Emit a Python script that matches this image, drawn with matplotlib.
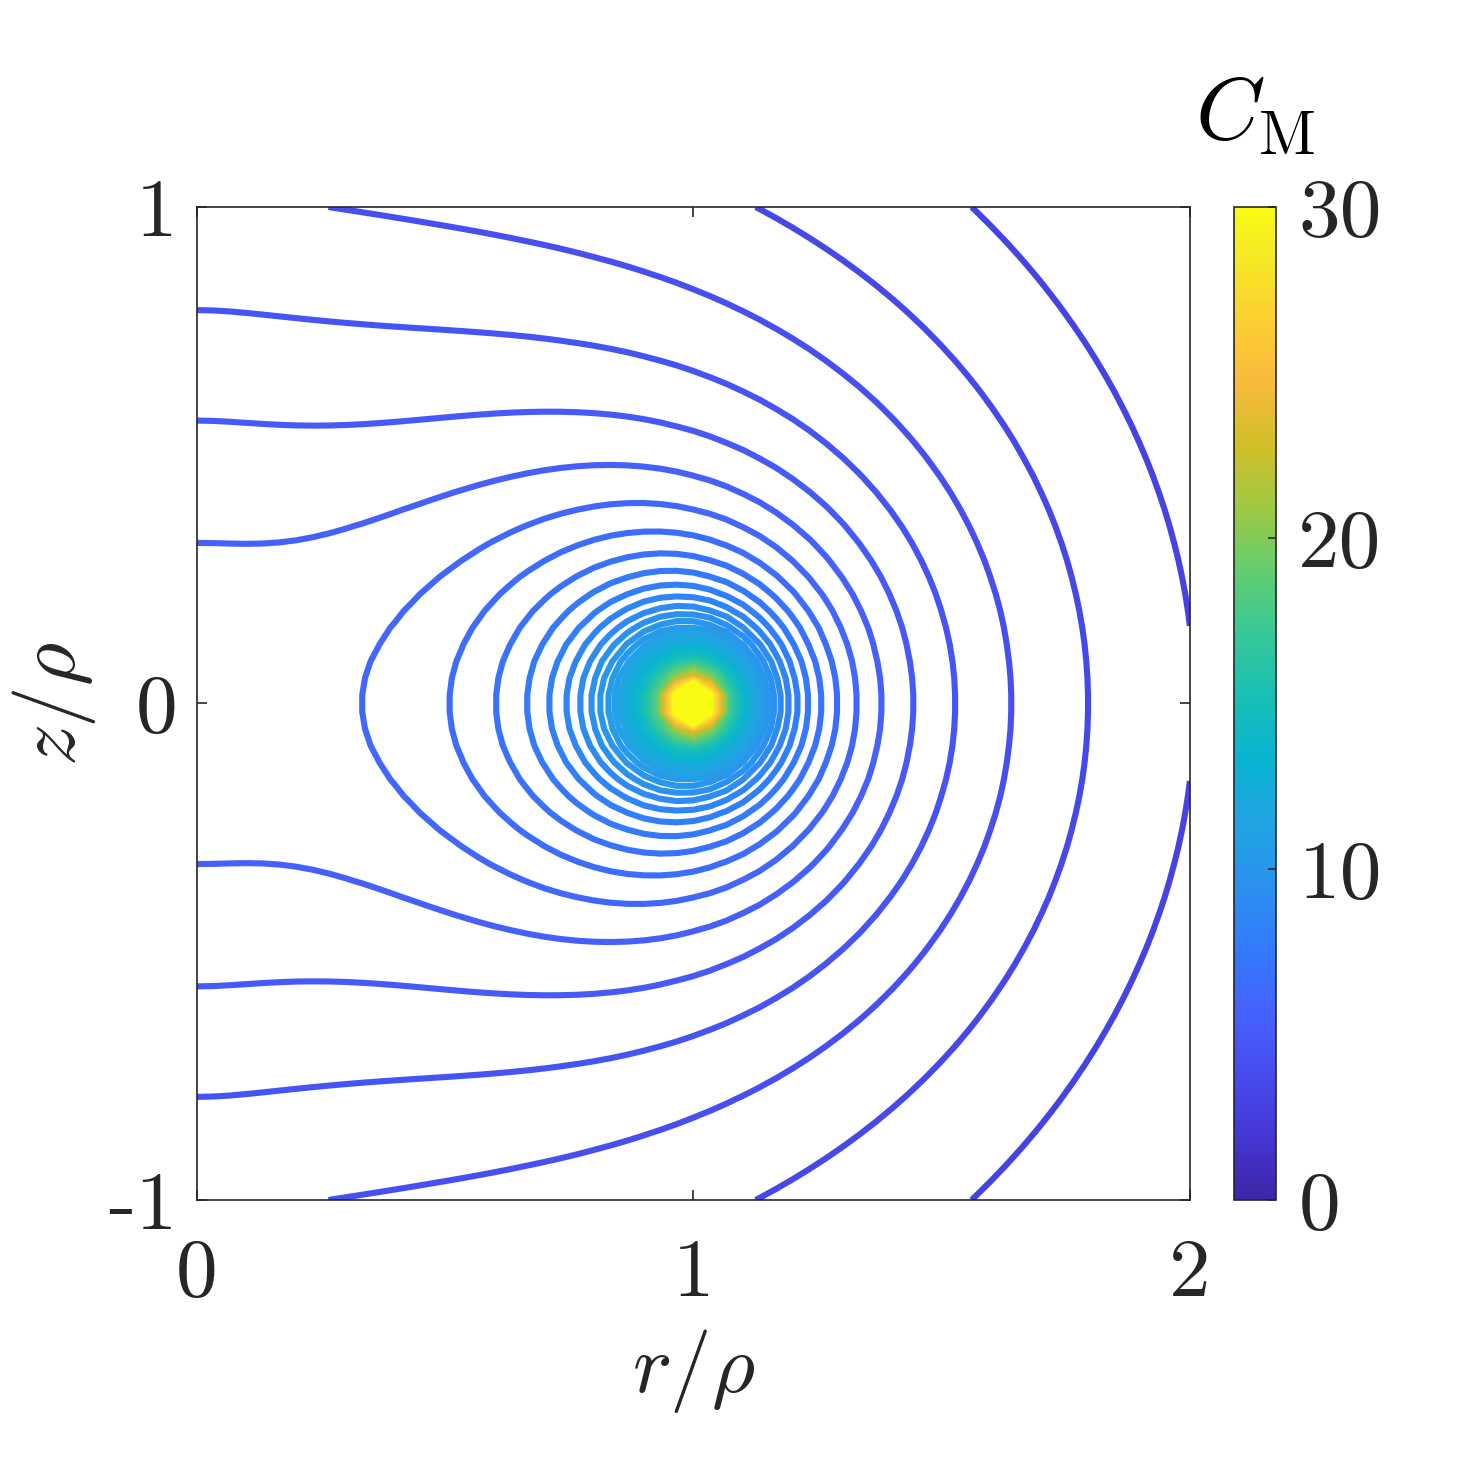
import numpy as np
import matplotlib
matplotlib.use("Agg")
import matplotlib.pyplot as plt
from matplotlib.colors import LinearSegmentedColormap, Normalize
from matplotlib.cm import ScalarMappable

plt.rcParams['mathtext.fontset'] = 'cm'
plt.rcParams['font.family'] = ['cmr10', 'DejaVu Serif']
plt.rcParams['axes.unicode_minus'] = False

# grid of the (r, z) half plane, ring sits at r = rho = 1, z = 0
r_grid = np.linspace(0, 2, 61)
z_grid = np.linspace(-1, 1, 60)

# field fitted to the contour crossings
ring_r = 1.0
far_exp = 0.277      # extra decay with distance from the far side of the ring
axis_eps = 0.12      # keeps the field smooth on the axis r = 0
z_weight = 0.4
lin_coef = 2.212
log_coef = 0.862
offset = 3.685
c_cap = 45.0

level_lo, level_hi, level_step = 3.0, 45.0, 0.5
x_ticks = [0, 1, 2]
x_ticklabels = ['0', '1', '2']
y_ticks = [-1, 0, 1]
y_ticklabels = ['-1', '0', '1']
cbar_ticks = [0, 10, 20, 30]
cbar_ticklabels = ['0', '10', '20', '30']
c_min, c_max = 0, 30

# matlab parula (every 4th entry of the 64 colour table)
parula_rgb = [
    (0.2422, 0.1504, 0.6603), (0.2706, 0.2147, 0.8364), (0.2813, 0.3006, 0.9414),
    (0.2699, 0.3892, 0.9906), (0.1963, 0.4847, 0.9892), (0.1687, 0.5703, 0.9359),
    (0.1248, 0.6459, 0.8883), (0.0297, 0.7082, 0.8163), (0.0964, 0.7500, 0.7120),
    (0.2161, 0.7843, 0.5923), (0.3909, 0.8029, 0.4354), (0.6174, 0.7876, 0.2612),
    (0.8203, 0.7498, 0.1535), (0.9728, 0.7298, 0.2394), (0.9892, 0.8136, 0.1885),
    (0.9597, 0.9135, 0.1423), (0.9769, 0.9839, 0.0805),
]
parula_pos = [0, 4, 8, 12, 16, 20, 24, 28, 32, 36, 40, 44, 48, 52, 56, 60, 63]
parula = LinearSegmentedColormap.from_list(
    'parula', [(p / 63, c) for p, c in zip(parula_pos, parula_rgb)])

R, Z = np.meshgrid(r_grid, z_grid)
d = np.maximum(np.hypot(R - ring_r, Z), 1e-4)   # distance to ring
D = np.hypot(R + ring_r, Z)                     # distance to far side
r_s = np.sqrt(R ** 2 + axis_eps ** 2)
D_w = np.sqrt((ring_r + r_s) ** 2 + z_weight * Z ** 2)
G = 1.0 / (d * D * D_w ** far_exp)
C = lin_coef * G + log_coef * np.log(G) + offset
C = np.minimum(C, c_cap)

levels = np.arange(level_lo, level_hi + 1e-9, level_step)
norm = Normalize(vmin=c_min, vmax=c_max)

ink = (0.15, 0.15, 0.15)
fig = plt.figure(figsize=(7.29, 7.29), dpi=200)
ax = fig.add_axes([0.1351, 0.177, 0.681, 0.681])
ax.contour(R, Z, C, levels=levels, cmap=parula, norm=norm, linewidths=2.2)

ax.set_xlim(0, 2)
ax.set_ylim(-1, 1)
ax.set_xticks(x_ticks)
ax.set_xticklabels(x_ticklabels)
ax.set_yticks(y_ticks)
ax.set_yticklabels(y_ticklabels)
ax.tick_params(direction='in', length=3.6, width=0.6, colors=ink,
               labelsize=30, top=True, right=True)
ax.tick_params(axis='x', pad=14)
ax.tick_params(axis='y', pad=7)
for s in ax.spines.values():
    s.set_linewidth(0.6)
    s.set_color(ink)

ax.set_xlabel(r'$r/\rho$', fontsize=30, color=ink)
ax.xaxis.set_label_coords(0.5, -0.128)
ax.set_ylabel(r'$z/\rho$', fontsize=30, color=ink)
ax.yaxis.set_label_coords(-0.10, 0.5)

cax = fig.add_axes([0.8464, 0.177, 0.0288, 0.681])
sm = ScalarMappable(norm=norm, cmap=parula)
cb = fig.colorbar(sm, cax=cax, ticks=cbar_ticks)
cb.set_ticklabels(cbar_ticklabels)
cb.outline.set_linewidth(0.6)
cb.outline.set_edgecolor(ink)
cax.tick_params(direction='in', length=3.0, width=0.6, colors=ink,
                labelsize=30, pad=8)
cax.text(0.5, 1.05, r'$C_{\mathrm{M}}$', transform=cax.transAxes,
         ha='center', va='bottom', fontsize=32, color='black')

fig.savefig('out.png', dpi=200)
